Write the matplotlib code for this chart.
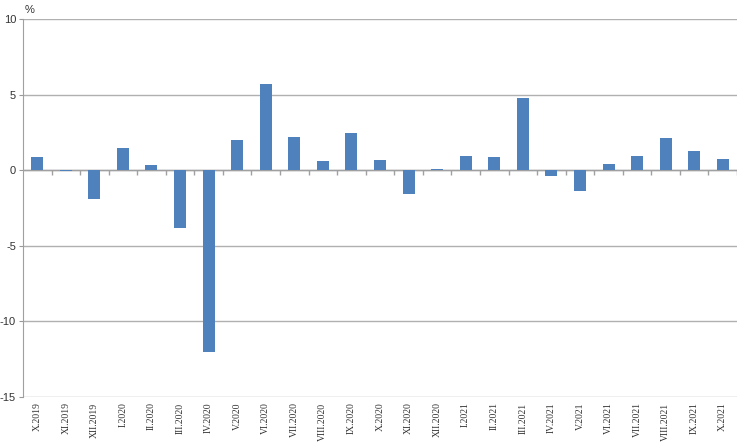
import matplotlib
matplotlib.use('Agg')
import matplotlib.pyplot as plt
import numpy as np

months = ['X.2019', 'XI.2019', 'XII.2019', 'I.2020', 'II.2020', 'III.2020', 'IV.2020',
          'V.2020', 'VI.2020', 'VII.2020', 'VIII.2020', 'IX.2020', 'X.2020', 'XI.2020',
          'XII.2020', 'I.2021', 'II.2021', 'III.2021', 'IV.2021', 'V.2021', 'VI.2021',
          'VII.2021', 'VIII.2021', 'IX.2021', 'X.2021']
values = [0.86, -0.05, -1.9, 1.5, 0.35, -3.8, -12.05,
          2.0, 5.7, 2.2, 0.6, 2.45, 0.65, -1.55,
          0.05, 0.95, 0.9, 4.8, -0.35, -1.4, 0.4,
          0.95, 2.1, 1.3, 0.75]
y_ticks = [-15, -10, -5, 0, 5, 10]

fig = plt.figure(figsize=(7.4, 4.44), dpi=100)
ax = fig.add_axes([0.031, 0.106, 0.965, 0.851])

x = np.arange(len(months))
ax.bar(x, values, width=0.42, color='#4F81BD', zorder=3)

ax.set_xlim(-0.5, len(months) - 0.5)
ax.set_ylim(-15, 10)
ax.set_yticks(y_ticks)
ax.set_yticklabels([str(t) for t in y_ticks], fontsize=8, family='Liberation Sans', color='#333333')
ax.yaxis.grid(True, color='#b0b0b0', linewidth=1, zorder=0)
ax.tick_params(axis='y', length=3, color='#999999', pad=2)

ax.set_xticks(x)
ax.set_xticklabels(months, rotation=90, fontsize=7, family='Liberation Serif', color='#333333')
ax.tick_params(axis='x', length=0, pad=4)

# zero line with small category boundary ticks
ax.axhline(0, color='#a0a0a0', linewidth=1, zorder=2)
bounds = np.arange(len(months) + 1) - 0.5
ax.vlines(bounds[1:], 0, -0.3, color='#a0a0a0', linewidth=1, zorder=2)

for s in ['top', 'right', 'bottom']:
    ax.spines[s].set_visible(False)
ax.spines['left'].set_color('#a0a0a0')

fig.text(25 / 740, 1 - 10 / 444, '%', fontsize=8, va='center',
         family='Liberation Sans', color='#333333')

fig.savefig('out.png', dpi=100)
